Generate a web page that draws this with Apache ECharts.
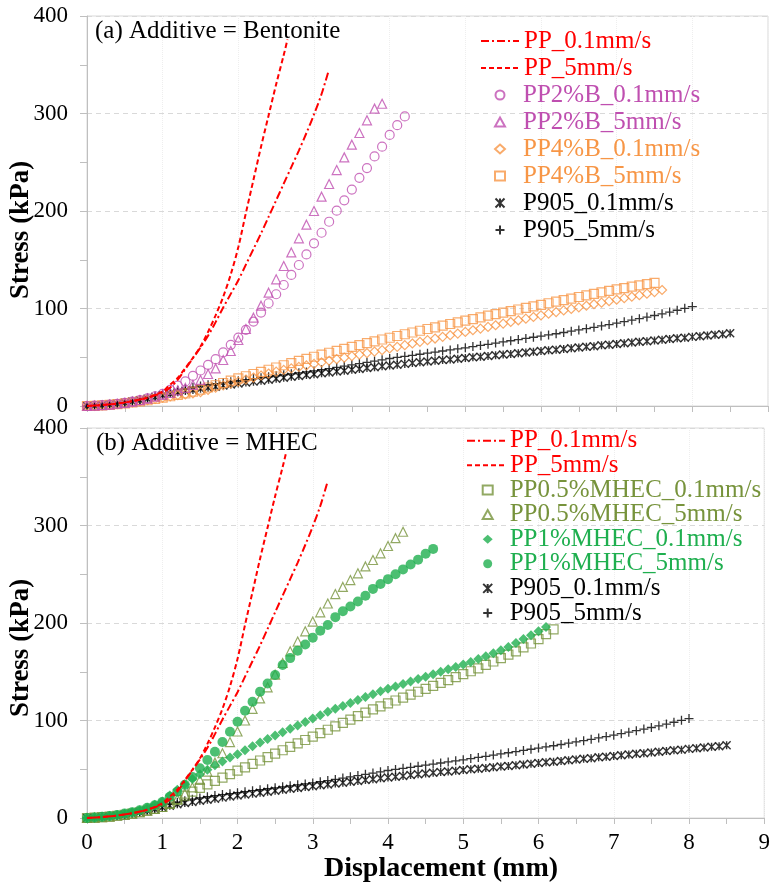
<!DOCTYPE html>
<html><head><meta charset="utf-8">
<script src="https://cdn.jsdelivr.net/npm/echarts@6/dist/echarts.min.js"></script>
<style>html,body{margin:0;padding:0;background:#fff}#c{width:773px;height:890px}</style>
</head><body><div id="c"></div>
<script>
// displacement sampling grid (mm)
const disp = [0,0.1,0.2,0.3,0.4,0.5,0.6,0.7,0.8,0.9,1,1.1,1.2,1.3,1.4,1.5,1.6,1.7,1.8,1.9,2,2.1,2.2,2.3,2.4,2.5,2.6,2.7,2.8,2.9,3,3.1,3.2,3.3,3.4,3.5,3.6,3.7,3.8,3.9,4,4.1,4.2,4.3,4.4,4.5,4.6,4.7,4.8,4.9,5,5.1,5.2,5.3,5.4,5.5,5.6,5.7,5.8,5.9,6,6.1,6.2,6.3,6.4,6.5,6.6,6.7,6.8,6.9,7,7.1,7.2,7.3,7.4,7.5,7.6,7.7,7.8,7.9,8,8.1,8.2,8.3,8.4,8.5];

// PP lines (stress kPa)
const ppSlowX = [0,0.2,0.4,0.6,0.8,1.0,1.1,1.2,1.3,1.4,1.5,1.6,1.7,1.8,1.9,2.0,2.1,2.2,2.3,2.4,2.5,2.6,2.7,2.8,2.9,3.0,3.1,3.19];
const ppSlowY = [0,1,2.5,5,8.5,14,19,27,38,49,60,72,86,101,115,129,145,161,177,194,211,228,245,262,280,299,320,343];
const ppFastX = [0,0.2,0.4,0.6,0.8,1.0,1.1,1.2,1.3,1.4,1.5,1.6,1.7,1.8,1.9,2.0,2.1,2.2,2.3,2.4,2.5,2.6,2.65];
const ppFastY = [0,1,2.5,5,8.5,15,22,29,39,49.5,61,76,93,112,135,163,198,232,266,298,330,360,376];

// Bentonite series (stress at disp grid)
const pp2B_slow = [0,0.3,0.8,1.5,2.3,3.3,4.5,6,7.8,10,12.5,16.5,21,25.2,31,36.4,42.2,48,54.9,62.7,70.2,78.1,86.6,95.8,105.4,114.6,124.1,134.4,144.6,155.5,166.8,177.7,189,200.3,211,222,234,244,256,266,278,288,297];
const pp2B_fast = [0,0.3,0.8,1.5,2.3,3.3,4.5,6,7.6,9.5,11.5,13.5,16,18.5,21.6,26.7,32.8,38.6,47.2,56.4,67.7,79,90.6,102.9,116.2,129.9,143.6,157.5,172,186,200,214.7,227.7,242,255,268,280,293,305,310];
const pp4B_slow = [0,0.2,0.6,1.2,1.9,2.7,3.6,4.7,5.9,7.2,8.5,9.8,11,12,13,14.2,16.5,18.8,21,23,25,27.2,29.2,31.3,33.3,35.2,37,38.6,40.1,41.6,43.2,44.8,46.4,48,49.6,51.2,52.7,54.3,55.8,57.3,59,60.7,62.4,64.1,65.8,67.5,69.2,70.9,72.6,74.3,76,77.7,79.4,81.1,82.8,84.5,86.2,87.9,89.6,91.3,93,94.7,96.3,98,99.6,101.2,102.8,104.4,106,107.5,109,110.6,112.1,113.6,115.2,116.8,119];
const pp4B_fast = [0,0.2,0.6,1.2,1.9,2.7,3.6,4.7,5.9,7.2,8.6,10,11.5,13,14.8,16.8,19,21.3,23.6,26,28.3,30.5,32.8,35,37.2,39.5,41.8,44,46.2,48.4,50.5,52.6,54.6,56.6,58.6,60.6,62.5,64.4,66.3,68.2,70,71.8,73.6,75.4,77.2,79,80.7,82.4,84.1,85.8,87.5,89.2,90.9,92.6,94.2,95.8,97.4,99,100.6,102.2,103.8,105.4,107,108.6,110.2,111.8,113.4,115,116.6,118.1,119.6,121,122.4,123.7,125,126.3];

// P905 series
const p905_slow = [0,0.3,0.8,1.5,2.4,3.4,4.6,6,7.5,9.2,11,12.5,14,15.3,16.5,17.6,18.7,19.8,20.9,22,23,24,25,26,27,28,29,29.9,30.8,31.7,32.6,33.5,34.4,35.3,36.2,37.1,38,38.9,39.8,40.7,41.6,42.4,43.2,44,44.8,45.6,46.4,47.1,47.8,48.5,49.2,49.9,50.6,51.3,52,52.7,53.4,54.1,54.9,55.6,56.4,57.1,57.8,58.5,59.3,60,60.7,61.4,62.2,62.9,63.6,64.3,65.1,65.8,66.5,67.2,68,68.7,69.4,70.1,70.9,71.6,72.3,73,73.7,74.5];
const p905_fast = [0,0.3,0.9,1.7,2.6,3.7,5,6.5,8.2,10.2,12.3,14.3,16.2,17.8,19.3,20.6,21.8,23,24,25,26,27,28,29,30,31,32,33,34,35,36,37.2,38.4,39.6,40.9,42.2,43.5,44.8,46.1,47.4,48.7,49.8,50.9,52,53.1,54.2,55.3,56.4,57.5,58.6,59.7,60.9,62.1,63.3,64.5,65.7,66.9,68.1,69.3,70.5,71.7,72.9,74.1,75.4,76.7,78,79.3,80.7,82.1,83.5,85,86.5,88,89.6,91.2,92.8,94.5,96.3,98.2,100.2,102];

// MHEC series
const mhec05_slow = [0,0.3,0.8,1.5,2.3,3.3,4.5,5.9,7.5,9.3,11.3,14.5,18.5,23,27,31,34.5,38,41.5,45,48.5,52,55.5,59,62.5,66,69.5,73,76.5,80,83.5,87,90.5,94,97.5,101,104.5,108,111.5,114.5,117.5,120.5,123.5,126.5,129.5,132.5,135.5,138.5,141.5,144.5,147.5,150.5,153.5,157,160.5,164,167.5,171,175,179,183.5,188.5,193.5];
const mhec05_fast = [0,0.3,0.8,1.5,2.3,3.3,4.5,5.9,7.5,9.3,11.3,15,19.5,25,31.5,39,47.6,56.8,66.4,77.9,88.7,100,112,122.6,134,147,159,171,181,191.5,201.5,211,220,229.7,237,244,251,258,264.6,271.5,279,287,293.6];
const mhec1_slow = [0,0.4,1.1,2,3,4.3,6,8,10.5,13.5,17,23,29,34.5,40,45,49.5,54,58,62,65.5,69.5,73.5,77.5,81,84.5,88,91.5,95,98.5,102,105.5,109,112,115,118,121,124,127,130,132.5,135,137.5,140,142.5,145,147.5,150,152.5,155,157.5,160,163,166,169,172,175.5,179.5,183.5,187.5,191.5,196];
const mhec1_fast = [0,0.5,1.2,2,3,4.5,6,8,10.5,13,16.5,21.8,27,34,42,51,59.5,68,78,88.5,98.8,110,119.3,129.6,138,146.7,157,164,171.6,178,185,192,198,206,212,217,222,228,235,240,245,250,255,260,265,271,276];

const xTicks = [0,1,2,3,4,5,6,7,8,9];
const yTicks = [0,100,200,300,400];

const RED='#FF0000', MAG='#BF4FB0', ORG='#F79646', OLV='#77933C', GRN='#1FAF4F', BLK='#000000';
const FONT='Liberation Serif';
const XMARK='path://M0,0L10,10M10,0L0,10M5,0L5,10';
const PLUS='path://M5,0L5,10M0,5L10,5';

function onGrid(ys){ return ys.map((y,i)=>[disp[i], y]); }
function pairs(xs, ys){ return xs.map((x,i)=>[x, ys[i]]); }

function lineS(name, xs, ys, dash, gi){
  return {type:'line', name, xAxisIndex:gi, yAxisIndex:gi, data:pairs(xs,ys), symbol:'none', showSymbol:false, smooth:0.3,
    lineStyle:{color:RED, width:2, type:dash}, itemStyle:{color:RED}, z:5, emphasis:{disabled:true}};
}
function sc(name, ys, symbol, size, color, filled, gi, bw){
  return {type:'scatter', name, xAxisIndex:gi, yAxisIndex:gi, data:onGrid(ys), symbol, symbolSize:size,
    itemStyle: filled ? {color} : {color:'rgba(0,0,0,0)', borderColor:color, borderWidth:bw||1.2},
    emphasis:{disabled:true}, z:3};
}
const DASHDOT=[8,3,2,3], DASH=[5,3];

function xAxisCfg(gi, showLabels){
  return {gridIndex:gi, type:'value', min:0, max:9, interval:1,
    axisLine:{show:true, onZero:false, lineStyle:{color:'#bfbfbf', width:1}},
    axisTick:{show:true, length:6, lineStyle:{color:'#bfbfbf'}},
    minorTick:{show:true, splitNumber:2, length:6, lineStyle:{color:'#bfbfbf'}},
    axisLabel:{show:showLabels, fontFamily:FONT, fontSize:23, color:'#000', margin:13,
      formatter:(v)=> xTicks.includes(v) ? String(v) : ''},
    splitLine:{show:true, lineStyle:{color:'#eeeeee', type:'dotted'}}};
}
function yAxisCfg(gi){
  return {gridIndex:gi, type:'value', min:0, max:400, interval:100,
    axisLine:{show:true, lineStyle:{color:'#bfbfbf', width:1}},
    axisTick:{show:true, length:7, lineStyle:{color:'#bfbfbf'}},
    minorTick:{show:true, splitNumber:2, length:7, lineStyle:{color:'#bfbfbf'}},
    axisLabel:{fontFamily:FONT, fontSize:23, color:'#000', margin:19,
      formatter:(v)=> yTicks.includes(v) ? String(v) : ''},
    splitLine:{show:true, lineStyle:{color:'#d9d9d9', type:[5,4]}}};
}
// legend text colours by series name
const legendColor = {
  'PP_0.1mm/s':RED, 'PP_5mm/s':RED,
  'PP2%B_0.1mm/s':MAG, 'PP2%B_5mm/s':MAG, 'PP4%B_0.1mm/s':ORG, 'PP4%B_5mm/s':ORG,
  'P905_0.1mm/s':BLK, 'P905_5mm/s':BLK,
  'PP0.5%MHEC_0.1mm/s':OLV, 'PP0.5%MHEC_5mm/s':OLV, 'PP1%MHEC_0.1mm/s':GRN, 'PP1%MHEC_5mm/s':GRN
};
const colorKey = {[RED]:'r',[MAG]:'m',[ORG]:'o',[BLK]:'k',[OLV]:'v',[GRN]:'g'};
function richSet(padL){
  const rich = {};
  Object.keys(colorKey).forEach(c => {
    rich[colorKey[c]] = {fontFamily:FONT, fontSize:25, color:c, padding:[0,0,0,padL||0], height:25, lineHeight:25};
  });
  return rich;
}
function legendBase(left, top, gap, names, iw, ih, padL){
  return {orient:'vertical', left, top, padding:0, itemWidth:iw, itemHeight:ih, itemGap:gap, selectedMode:false,
    textStyle:{fontFamily:FONT, fontSize:25, rich:richSet(padL)},
    formatter:(n)=> '{' + colorKey[legendColor[n]] + '|' + n + '}',
    data:names.map(n => iw > 20 ? {name:n, itemStyle:{opacity:0}} : {name:n})};
}

const chart = echarts.init(document.getElementById('c'), null, {renderer:'canvas'});
chart.setOption({
  animation:false,
  backgroundColor:'#fff',
  textStyle:{fontFamily:FONT},
  grid:[
    {left:87, top:16, width:681, height:390, show:true, borderColor:'#d9d9d9', borderWidth:1, backgroundColor:'transparent'},
    {left:87, top:428, width:681, height:390, show:true, borderColor:'#d9d9d9', borderWidth:1, backgroundColor:'transparent'}
  ],
  xAxis:[xAxisCfg(0,false), xAxisCfg(1,true)],
  yAxis:[yAxisCfg(0), yAxisCfg(1)],
  title:[
    {text:'(a) Additive = Bentonite', left:95, top:18, padding:0, textStyle:{fontFamily:FONT, fontSize:25, fontWeight:'normal', color:'#000', lineHeight:26}},
    {text:'(b) Additive = MHEC', left:96, top:430, padding:0, textStyle:{fontFamily:FONT, fontSize:25, fontWeight:'normal', color:'#000', lineHeight:26}}
  ],
  legend:[
    legendBase(480, 28.5, 2, ['PP_0.1mm/s','PP_5mm/s'], 38, 10, 0),
    legendBase(494, 82.5, 2, ['PP2%B_0.1mm/s','PP2%B_5mm/s','PP4%B_0.1mm/s','PP4%B_5mm/s','P905_0.1mm/s','P905_5mm/s'], 10, 9, 13),
    legendBase(466, 428.2, -0.4, ['PP_0.1mm/s','PP_5mm/s'], 38, 10, 0),
    legendBase(481.7, 477.5, -0.4, ['PP0.5%MHEC_0.1mm/s','PP0.5%MHEC_5mm/s','PP1%MHEC_0.1mm/s','PP1%MHEC_5mm/s','P905_0.1mm/s','P905_5mm/s'], 10, 9, 12)
  ],
  graphic:[
    {type:'text', x:21, y:230, rotation:Math.PI/2, style:{text:'Stress (kPa)', fontFamily:FONT, fontSize:27, fontWeight:'bold', fill:'#000', align:'center', verticalAlign:'middle'}},
    {type:'text', x:21, y:648, rotation:Math.PI/2, style:{text:'Stress (kPa)', fontFamily:FONT, fontSize:27, fontWeight:'bold', fill:'#000', align:'center', verticalAlign:'middle'}},
    {type:'text', x:441, y:869, style:{text:'Displacement (mm)', fontFamily:FONT, fontSize:28, fontWeight:'bold', fill:'#000', align:'center', verticalAlign:'middle'}}
  ],
  series:[
    sc('P905_0.1mm/s', p905_slow, XMARK, 8, BLK, false, 0, 1.4),
    sc('P905_5mm/s', p905_fast, PLUS, 9, BLK, false, 0, 1.3),
    sc('PP4%B_0.1mm/s', pp4B_slow, 'diamond', 9, ORG, false, 0),
    sc('PP4%B_5mm/s', pp4B_fast, 'rect', 9, ORG, false, 0),
    sc('PP2%B_0.1mm/s', pp2B_slow, 'circle', 9, MAG, false, 0),
    sc('PP2%B_5mm/s', pp2B_fast, 'triangle', 9, MAG, false, 0),
    lineS('PP_0.1mm/s', ppSlowX, ppSlowY, DASHDOT, 0),
    lineS('PP_5mm/s', ppFastX, ppFastY, DASH, 0),

    sc('P905_0.1mm/s', p905_slow, XMARK, 8, BLK, false, 1, 1.4),
    sc('P905_5mm/s', p905_fast, PLUS, 9, BLK, false, 1, 1.3),
    sc('PP0.5%MHEC_0.1mm/s', mhec05_slow, 'rect', 9, OLV, false, 1),
    sc('PP0.5%MHEC_5mm/s', mhec05_fast, 'triangle', 9, OLV, false, 1),
    sc('PP1%MHEC_0.1mm/s', mhec1_slow, 'diamond', 10, GRN, true, 1),
    sc('PP1%MHEC_5mm/s', mhec1_fast, 'circle', 10, GRN, true, 1),
    lineS('PP_0.1mm/s', ppSlowX, ppSlowY, DASHDOT, 1),
    lineS('PP_5mm/s', ppFastX, ppFastY, DASH, 1)
  ]
});
</script></body></html>
